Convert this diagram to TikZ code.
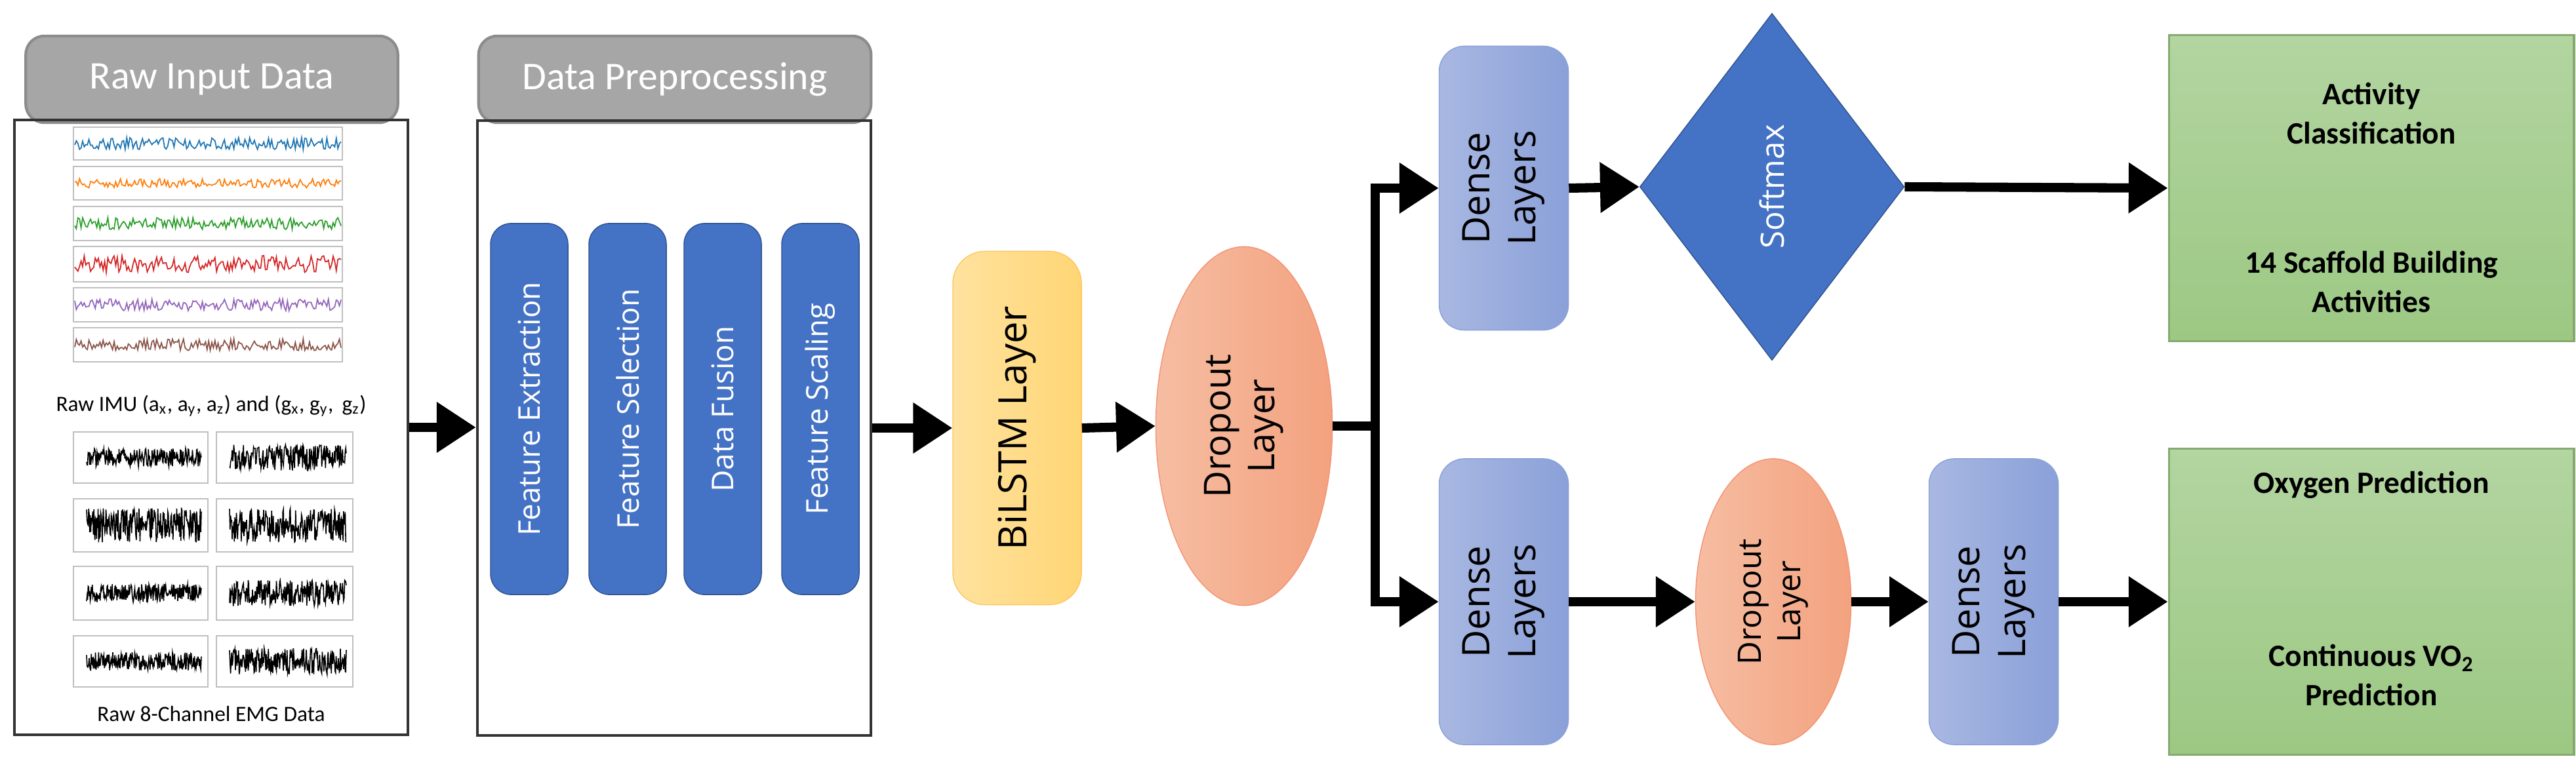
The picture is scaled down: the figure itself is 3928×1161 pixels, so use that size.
\documentclass[tikz,border=0pt]{standalone}
\usepackage{fontspec}
\setmainfont{Open Sans}
\newfontfamily\calib{Carlito}
\usetikzlibrary{arrows.meta,shapes.geometric}

\definecolor{barblue}{HTML}{4472C4}
\definecolor{barline}{HTML}{2F528F}
\definecolor{titlegray}{HTML}{A6A6A6}
\definecolor{titleline}{HTML}{8C8C8C}
\definecolor{denseA}{HTML}{A9B8E2}
\definecolor{denseB}{HTML}{8AA0D8}
\definecolor{dropA}{HTML}{F6BDA2}
\definecolor{dropB}{HTML}{F3A27F}
\definecolor{lstmA}{HTML}{FFE29F}
\definecolor{lstmB}{HTML}{FFD675}
\definecolor{greenA}{HTML}{B3D5A1}
\definecolor{greenB}{HTML}{9CC883}

\begin{document}
\begin{tikzpicture}[
	x=0.01cm,
	y=-0.01cm,
	>={Triangle[length=17pt,width=21pt]},
	flow/.style={->,line width=4pt},
	title node/.style={rectangle,rounded corners=8pt,draw=titleline,line width=1.2pt,fill=titlegray,text=white,font=\calib\fontsize{17}{20}\selectfont,minimum width=56.7mm,minimum height=13.2mm},
	panel node/.style={rectangle,draw=black!80,line width=1.2pt,minimum width=60mm,minimum height=93.7mm},
	bar node/.style={rectangle,rounded corners=9pt,draw=barline,fill=barblue,text=white,font=\fontsize{13}{15}\selectfont,rotate=90,minimum width=56.6mm,minimum height=11.8mm},
	dense node/.style={rectangle,rounded corners=11pt,draw=denseB,left color=denseA,right color=denseB,font=\fontsize{16.5}{20}\selectfont,rotate=90,minimum height=19.7mm,align=center},
	drop node/.style={ellipse,draw=dropB!90!red,left color=dropA,right color=dropB,rotate=90,inner sep=0pt,align=center},
	out node/.style={rectangle,draw=greenB!85!black,top color=greenA,bottom color=greenB,line width=1pt,minimum width=61.7mm,minimum height=46.7mm},
	out text/.style={font=\calib\bfseries\fontsize{13.5}{17}\selectfont,align=center},
	tiny text/.style={font=\calib\fontsize{9.5}{11}\selectfont}
]
\useasboundingbox (0,0) rectangle (3928,1161);

% raw input panel
\node[title node] (rawtitle) at (323,121) {Raw Input Data};
\node[panel node] (raw) at (322,652) {};
\pgfmathsetseed{7}
\foreach \c/\t/\b/\a in {1f77b4/194/244/9,ff7f0e/254/305/7,2ca02c/315/367/9,d62728/376/430/13,9467bd/439/491/9,8c564b/500/552/9}{
	\definecolor{sig}{HTML}{\c}
	\draw[black!25,line width=0.4pt] (112,\t) rectangle (522,\b);
	\draw[sig,line width=0.5pt] plot[domain=114:520,samples=170] (\x,{(\t+\b)/2+\a*rand});
}
\node[tiny text] (imu) at (322,619) {Raw IMU (a\textsubscript{x}, a\textsubscript{y}, a\textsubscript{z}) and (g\textsubscript{x}, g\textsubscript{y},\, g\textsubscript{z})};
\foreach \t/\b [count=\i] in {659/737,761/842,864/946,970/1048}{
	\foreach \l/\r in {112/317,330/538}{
		\draw[black!25,line width=0.4pt] (\l,\t) rectangle (\r,\b);
		\pgfmathsetmacro\amp{ifthenelse(\i==2,26,ifthenelse(\r>500,20,14))}
		\draw[black,line width=0.45pt] plot[domain=\l+20:\r-10,samples=220] (\x,{(\t+\b)/2+\amp*rand});
	}
}
\node[tiny text] (emg) at (322,1089) {Raw 8-Channel EMG Data};

% preprocessing panel
\node[title node,minimum width=59.8mm] (preptitle) at (1029,121) {Data Preprocessing};
\node[panel node] (prep) at (1028,653) {};
\node[bar node] (fe) at (807,624) {Feature Extraction};
\node[bar node] (fs) at (957,624) {Feature Selection};
\node[bar node] (df) at (1102,624) {Data Fusion};
\node[bar node] (fsc) at (1251,624) {Feature Scaling};

% network
\node[rectangle,rounded corners=14pt,draw=lstmB!80!orange,left color=lstmA,right color=lstmB,rotate=90,minimum width=53.9mm,minimum height=19.6mm,font=\fontsize{17}{20}\selectfont] (lstm) at (1551,653) {BiLSTM Layer};
\node[drop node,minimum width=54.7mm,minimum height=26.9mm,font=\fontsize{16}{19}\selectfont] (drop1) at (1897,650) {Dropout\\Layer};
\coordinate (split) at (2097,650);

\node[dense node,minimum width=43.3mm] (dtop) at (2293,287) {Dense\\Layers};
\node[diamond,draw=barline,fill=barblue,text=white,rotate=90,inner sep=0pt,minimum width=52.9mm,minimum height=40.3mm,font=\fontsize{14}{17}\selectfont] (soft) at (2702,285) {Softmax};
\node[out node] (cls) at (3616,287) {};
\node[out text] (clsA) at (3616,173) {Activity\\Classification};
\node[out text] (clsB) at (3616,430) {14 Scaffold Building\\Activities};

\node[dense node,minimum width=43.6mm] (dbot) at (2293,918) {Dense\\Layers};
\node[drop node,minimum width=43.6mm,minimum height=23.7mm,font=\fontsize{14}{17}\selectfont] (drop2) at (2704,918) {Dropout\\Layer};
\node[dense node,minimum width=43.6mm] (dlast) at (3040,918) {Dense\\Layers};
\node[out node] (vo) at (3616,918) {};
\node[out text] (voA) at (3616,740) {Oxygen Prediction};
\node[out text] (voB) at (3616,1030) {Continuous VO\textsubscript{2}\\Prediction};

% connectors
\draw[flow] (raw.east |- 0,652) -- (prep.west |- 0,652);
\draw[flow] (prep.east |- lstm) -- (lstm.north);
\draw[flow] (lstm.south) -- (drop1.north);
\draw[line width=4pt] (drop1.south) -- (split);
\draw[flow] (split) |- (dtop.north);
\draw[flow] (split) |- (dbot.north);
\draw[flow] (dtop.south) -- (soft.north);
\draw[flow] (soft.south) -- (cls.west);
\draw[flow] (dbot.south) -- (drop2.north);
\draw[flow] (drop2.south) -- (dlast.north);
\draw[flow] (dlast.south) -- (vo.west);
\end{tikzpicture}
\end{document}
